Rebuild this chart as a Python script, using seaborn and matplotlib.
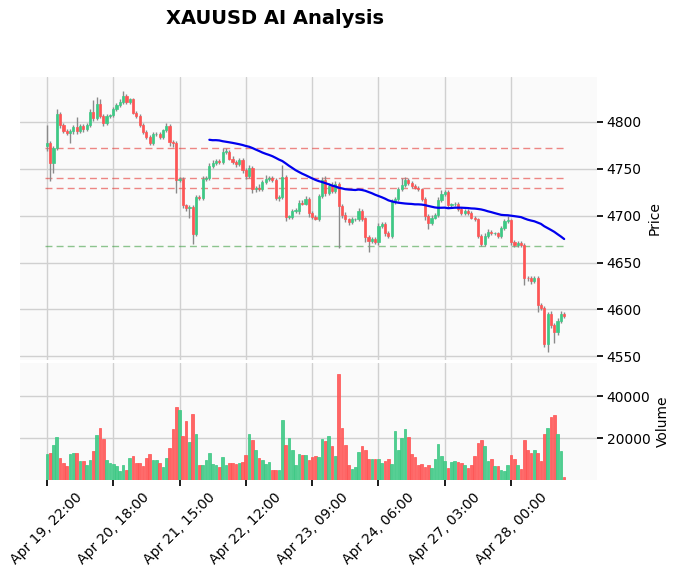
import numpy as np
import pandas as pd
import matplotlib
matplotlib.use("Agg")
import matplotlib.pyplot as plt
import seaborn as sns

# hourly closes (first open 4774)
first_open = 4774
closes = [
    4778, 4756, 4772, 4809, 4797, 4790, 4788, 4790, 4795, 4790,
    4796, 4792, 4797, 4811, 4804, 4819, 4806, 4799, 4806, 4807,
    4814, 4818, 4821, 4828, 4821, 4824, 4810, 4806, 4797, 4789,
    4784, 4778, 4787, 4787, 4784, 4791, 4796, 4779, 4778, 4738,
    4739, 4711, 4708, 4709, 4680, 4720, 4719, 4739, 4740, 4753,
    4756, 4758, 4757, 4768, 4768, 4761, 4757, 4755, 4759, 4749,
    4742, 4751, 4728, 4730, 4728, 4736, 4739, 4740, 4738, 4719,
    4720, 4741, 4699, 4699, 4705, 4705, 4714, 4713, 4718, 4703,
    4699, 4697, 4721, 4738, 4724, 4732, 4726, 4734, 4710, 4701,
    4696, 4693, 4696, 4696, 4705, 4697, 4677, 4673, 4675, 4672,
    4689, 4691, 4681, 4678, 4715, 4718, 4728, 4733, 4738, 4735,
    4732, 4730, 4728, 4718, 4700, 4692, 4698, 4701, 4717, 4723,
    4725, 4711, 4712, 4713, 4707, 4703, 4705, 4703, 4698, 4696,
    4678, 4670, 4678, 4683, 4681, 4681, 4678, 4687, 4694, 4695,
    4672, 4669, 4671, 4669, 4634, 4633, 4630, 4634, 4605, 4602,
    4563, 4595, 4583, 4576, 4588, 4595, 4593,
]
wick_up = [
    19, 2, 2, 5, 2, 2, 2, 2, 2, 10,
    2, 2, 2, 3, 12, 8, 6, 2, 2, 2,
    2, 2, 3, 5, 2, 2, 2, 2, 2, 2,
    2, 2, 2, 2, 2, 2, 3, 2, 2, 2,
    2, 2, 2, 2, 2, 2, 2, 3, 2, 3,
    3, 3, 2, 4, 4, 2, 3, 2, 3, 3,
    2, 3, 2, 2, 4, 2, 4, 2, 2, 2,
    2, 13, 2, 2, 2, 3, 3, 3, 3, 2,
    2, 2, 2, 3, 4, 3, 4, 3, 2, 2,
    3, 2, 3, 2, 3, 2, 2, 2, 2, 2,
    3, 2, 2, 3, 3, 2, 3, 7, 3, 2,
    2, 2, 2, 2, 2, 2, 3, 2, 3, 4,
    2, 2, 2, 2, 2, 2, 2, 2, 2, 2,
    2, 2, 3, 3, 2, 2, 2, 2, 3, 5,
    2, 2, 2, 2, 2, 2, 3, 2, 2, 2,
    2, 2, 3, 2, 3, 3, 2,
]
wick_dn = [
    5, 19, 10, 2, 3, 2, 2, 10, 3, 3,
    2, 3, 2, 2, 3, 2, 2, 3, 2, 2,
    2, 2, 2, 2, 2, 2, 2, 2, 2, 2,
    2, 3, 3, 2, 2, 2, 2, 5, 5, 14,
    2, 3, 3, 10, 10, 2, 2, 2, 2, 2,
    2, 2, 2, 2, 2, 2, 2, 3, 2, 3,
    3, 2, 4, 3, 2, 2, 2, 2, 2, 2,
    3, 2, 5, 3, 2, 2, 3, 2, 2, 4,
    3, 2, 3, 2, 3, 2, 2, 2, 45, 3,
    3, 3, 2, 2, 2, 3, 5, 12, 2, 2,
    3, 2, 3, 2, 2, 2, 2, 2, 2, 2,
    2, 2, 2, 2, 5, 6, 2, 2, 2, 2,
    2, 2, 2, 2, 2, 2, 2, 2, 2, 2,
    2, 2, 2, 2, 2, 2, 2, 2, 2, 2,
    3, 2, 2, 2, 8, 3, 3, 2, 8, 3,
    3, 8, 3, 12, 3, 2, 2,
]
# volume in thousands
volume_k = [
    12.4, 12.9, 16.8, 20.6, 10.5, 8.1, 6.5, 12.4, 12.9, 12.9,
    9.1, 9.1, 7.2, 9.6, 13.9, 21.6, 24.9, 19.6, 9.7, 8.1,
    7.6, 6.5, 4.3, 7.2, 4.7, 10.5, 11.4, 8.1, 8.1, 6.5,
    10.5, 12.4, 9.6, 9.6, 8.1, 6.2, 10.5, 15.3, 24.4, 35.1,
    33.3, 20.9, 28.1, 18.1, 31.4, 21.9, 7.1, 7.1, 9.5, 12.9,
    7.6, 7.1, 6.2, 10.9, 7.1, 8.1, 8.1, 7.6, 8.1, 8.6,
    11.9, 21.9, 19.0, 14.3, 10.5, 9.5, 7.6, 8.6, 4.8, 4.8,
    4.8, 28.6, 16.7, 20.0, 14.3, 7.1, 12.4, 11.9, 11.9, 9.5,
    10.9, 11.4, 10.9, 19.5, 18.6, 20.9, 16.2, 11.4, 50.5, 24.8,
    16.7, 7.1, 5.2, 6.2, 13.3, 16.2, 14.3, 10.0, 10.0, 10.0,
    10.0, 8.1, 9.0, 10.0, 7.6, 23.3, 14.3, 20.0, 24.3, 20.5,
    12.4, 10.9, 7.1, 7.6, 6.2, 7.1, 5.7, 10.0, 17.1, 11.4,
    9.0, 5.7, 8.6, 9.0, 8.6, 8.1, 7.1, 5.7, 7.1, 11.4,
    17.6, 19.0, 16.2, 9.0, 10.0, 6.7, 6.7, 4.8, 4.3, 7.1,
    11.9, 10.0, 7.1, 5.2, 19.0, 14.3, 12.9, 14.3, 12.9, 9.0,
    21.9, 24.8, 30.0, 30.9, 21.9, 13.8, 1.4,
]
tick_labels = ["Apr 19, 22:00", "Apr 20, 18:00", "Apr 21, 15:00", "Apr 22, 12:00",
               "Apr 23, 09:00", "Apr 24, 06:00", "Apr 27, 03:00", "Apr 28, 00:00"]
tick_step = 20
red_levels = [4772, 4740, 4730]
green_levels = [4668]
mav_window = 50

df = pd.DataFrame({"close": closes, "up": wick_up, "dn": wick_dn,
                   "volume": np.array(volume_k) * 1000})
df["open"] = [first_open] + closes[:-1]
df["high"] = df[["open", "close"]].max(axis=1) + df["up"]
df["low"] = df[["open", "close"]].min(axis=1) - df["dn"]
df["mav"] = df["close"].rolling(mav_window).mean()
df["i"] = np.arange(len(df))
rising = df["close"] >= df["open"]

up_col, down_col, wick_col = "#3dc985", "#ff5555", "#8a8a8a"
colors = np.where(rising, up_col, down_col)

sns.set_theme(style="whitegrid")
plt.rcParams["font.family"] = ["DejaVu Sans"]
plt.rcParams["text.color"] = "black"
plt.rcParams["axes.labelcolor"] = "black"
plt.rcParams["xtick.color"] = "black"
plt.rcParams["ytick.color"] = "black"

fig = plt.figure(figsize=(6.77, 5.76), dpi=100)
ax = fig.add_axes([20 / 677, 1 - 360 / 576, 577 / 677, 283 / 576])
axv = fig.add_axes([20 / 677, 1 - 480 / 576, 577 / 677, 117 / 576], sharex=ax)

for a in (ax, axv):
    a.set_facecolor("#fafafa")
    a.grid(True, color="#d0d0d0", linewidth=1)
    for s in a.spines.values():
        s.set_visible(False)
    a.yaxis.tick_right()
    a.yaxis.set_label_position("right")
    a.tick_params(axis="y", length=4, color="black", labelsize=10, pad=3, right=True)

ax.vlines(df["i"], df["low"], df["high"], color=wick_col, linewidth=1, zorder=2)
body = (df["close"] - df["open"]).abs().clip(lower=0.7)
ax.bar(df["i"], body, bottom=df[["open", "close"]].min(axis=1), width=0.65,
       color=colors, edgecolor=colors, linewidth=0.5, zorder=3)
sns.lineplot(data=df, x="i", y="mav", ax=ax, color="#0000ee", linewidth=1.6, zorder=4)

x0, x1 = df["i"].iloc[0] - 0.6, df["i"].iloc[-1] + 0.6
for lv in red_levels:
    ax.hlines(lv, x0, x1, colors="#e53935", linestyles=(0, (5, 3)), linewidth=1, alpha=0.6, zorder=1)
for lv in green_levels:
    ax.hlines(lv, x0, x1, colors="#43a047", linestyles=(0, (5, 3)), linewidth=1, alpha=0.6, zorder=1)

ax.set_ylim(4546, 4848)
ax.set_yticks(np.arange(4550, 4801, 50))
ax.set_ylabel("Price", fontsize=10)
ax.set_xlabel("")
ax.tick_params(axis="x", labelbottom=False, length=0)

axv.bar(df["i"], df["volume"], width=0.8, color=colors, edgecolor=colors, linewidth=0.6, alpha=0.9)
axv.set_ylim(0, 56000)
axv.set_yticks([20000, 40000])
axv.set_ylabel("Volume", fontsize=10)

ticks = np.arange(len(tick_labels)) * tick_step
axv.set_xticks(ticks)
axv.set_xticklabels(tick_labels, rotation=45, ha="center", fontsize=10)
axv.tick_params(axis="x", length=4, color="black", bottom=True)
ax.set_xlim(-8.1, 165.9)

fig.suptitle("XAUUSD AI Analysis", x=0.406, y=0.985, fontsize=14, fontweight="bold")
fig.savefig("out.png", dpi=100)
